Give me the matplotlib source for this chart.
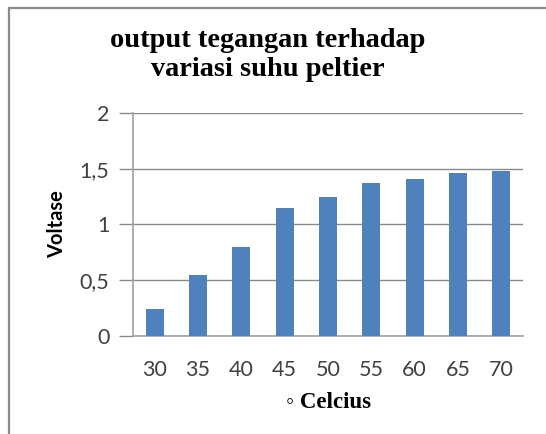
import matplotlib.pyplot as plt
from matplotlib.patches import Rectangle

# data
suhu = ["30", "35", "40", "45", "50", "55", "60", "65", "70"]
voltase = [0.24, 0.55, 0.80, 1.15, 1.25, 1.37, 1.41, 1.46, 1.48]
yticks = [0, 0.5, 1, 1.5, 2]
ytick_labels = ["0", "0,5", "1", "1,5", "2"]

W, H = 546, 434
fig = plt.figure(figsize=(W / 100, H / 100), dpi=100)

# chart frame (cut off on the right and bottom in the reference)
fig.patches.append(Rectangle((9 / W, -0.1), 1.2, (H - 8) / H + 0.1,
                             transform=fig.transFigure, fill=False,
                             edgecolor="#8c8c8c", linewidth=1.6))

ax = fig.add_axes([133 / W, (H - 336) / H, 390 / W, 223 / H])
ax.bar(range(len(suhu)), voltase, width=0.41, color="#4f81bd", zorder=3)

ax.set_xlim(-0.5, len(suhu) - 0.5)
ax.set_ylim(0, 2)
ax.set_yticks(yticks)
ax.set_yticklabels(ytick_labels)
ax.set_xticks(range(len(suhu)))
ax.set_xticklabels(suhu)

ax.grid(axis="y", color="#8a8a8a", linewidth=1.0, zorder=0)
for s in ["top", "right"]:
    ax.spines[s].set_visible(False)
ax.spines["left"].set_color("#a0a0a0")
ax.spines["bottom"].set_color("#a0a0a0")
ax.spines["left"].set_linewidth(1.2)
ax.spines["bottom"].set_linewidth(1.2)

ax.tick_params(axis="y", length=10, width=1.0, color="#8a8a8a", pad=7,
               labelsize=15.5, labelcolor="#404040")
ax.tick_params(axis="x", length=0, pad=17, labelsize=15.5, labelcolor="#404040")
for lab in ax.get_xticklabels() + ax.get_yticklabels():
    lab.set_family("Lato")

ax.set_ylabel("Voltase", fontsize=14.5, fontweight="bold", family="Lato")
ax.yaxis.set_label_coords(-0.17, 0.5)
ax.set_xlabel("◦ Celcius", fontsize=16.5, fontweight="bold",
              family=["Liberation Serif", "DejaVu Serif"], labelpad=9)

fig.text(268 / W, 1 - 55 / H, "output tegangan terhadap\nvariasi suhu peltier",
         ha="center", va="center", fontsize=20.4, fontweight="bold",
         family="Liberation Serif", linespacing=1.2)

fig.savefig("out.png", dpi=100)
